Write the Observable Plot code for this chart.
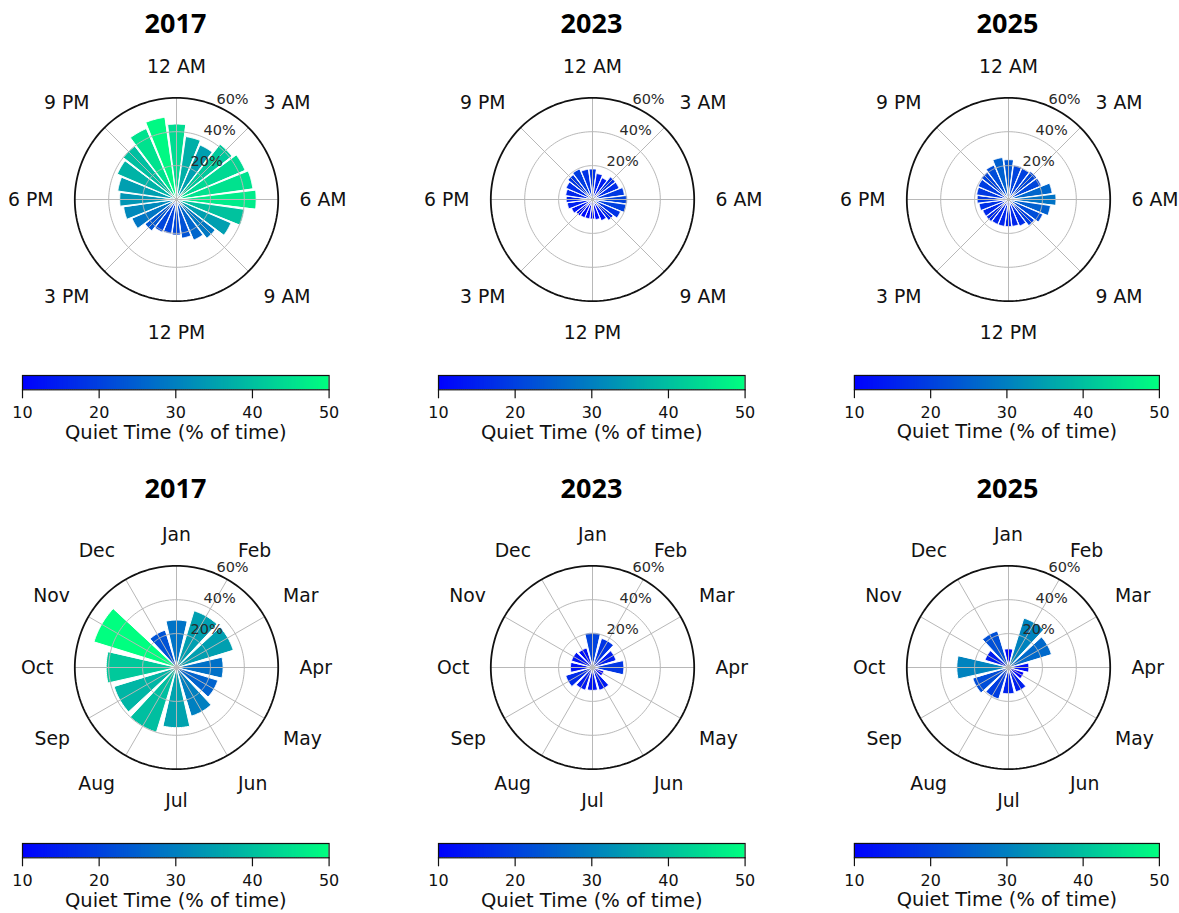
<!DOCTYPE html>
<html><head><meta charset="utf-8">
<script src="https://cdn.jsdelivr.net/npm/d3@7"></script>
<script src="https://cdn.jsdelivr.net/npm/@observablehq/plot@0.6"></script>
<style>
html,body{margin:0;padding:0;background:#fff;overflow:hidden;}
#root{position:relative;width:1179px;height:913px;font-family:"DejaVu Sans",sans-serif;}
.title{position:absolute;font-family:"Noto Sans","Open Sans",sans-serif;font-weight:700;font-size:27px;transform:translate(-50%,-50%);white-space:nowrap;color:#000;line-height:1;}
.panel{position:absolute;}
.panel svg{overflow:visible;background:transparent;}
</style></head><body><div id="root"></div>
<script>
// ---------- data ----------
const years = ["2017", "2023", "2025"];
const hourLabels = ["12 AM", "3 AM", "6 AM", "9 AM", "12 PM", "3 PM", "6 PM", "9 PM"];
const monthLabels = ["Jan", "Feb", "Mar", "Apr", "May", "Jun", "Jul", "Aug", "Sep", "Oct", "Nov", "Dec"];
// quiet time (% of time) by hour of day, 0..23
const hourly2017 = [44.5, 37.5, 35, 41.5, 44, 45.5, 47, 40.5, 35, 29, 26, 23, 21, 20.5, 21, 23.5, 28.5, 31.5, 33.5, 35, 38, 40, 45.5, 49];
const hourly2023 = [18, 15.5, 14, 17, 17, 19, 20.5, 20, 18, 15.5, 13.5, 12, 11.5, 11.5, 11.7, 12.2, 13.4, 15, 15.5, 16, 17, 18.5, 19.5, 18];
const hourly2025 = [23.5, 20.5, 20, 21, 21, 26, 28, 25, 22, 19.5, 17, 16, 16, 16, 16, 16.5, 16.5, 17.5, 18.5, 19, 19.5, 20.5, 22, 25];
// quiet time (% of time) by month
const monthly2017 = [28, 35, 35, 27.5, 25.5, 30, 35.5, 40, 38.5, 41.5, 51, 23];
const monthly2023 = [20.5, 18, 14.5, 18.5, 7, 14, 13.5, 14, 16.5, 13, 13, 12];
const monthly2025 = [11, 30.5, 26.5, 12, 9.5, 15, 15.5, 19.5, 22, 30.5, 14.5, 22.5];
const radialTicks = [20, 40, 60];
const radialTickLabels = ["20%", "40%", "60%"];
const colorDomain = [10, 50];
const colorTicks = [10, 20, 30, 40, 50];
const colorLabel = "Quiet Time (% of time)";

// ---------- layout ----------
const colX = [175.5, 591.5, 1007.5];
const rowY = [199, 667];
const titleY = [22, 487];
const cbTop = [375, 843];
const RMAX = radialTicks[radialTicks.length - 1];
const K = 101.7 / RMAX;      // px per data unit
const W = 340, H = 300;
const LABEL_R = 123 / K;     // angular labels radius (data units)
const colorScale = {type: "linear", domain: colorDomain, range: ["#0000ff", "#00ff80"], interpolate: "rgb", clamp: true};
const rad = (d) => d * Math.PI / 180;

function polarPanel(values, labels, barFrac) {
  const n = values.length;
  const step = 360 / n;
  const bars = [];
  values.forEach((v, i) => {
    const a0 = i * step - step * barFrac / 2, a1 = i * step + step * barFrac / 2;
    bars.push({id: i, x: 0, y: 0, v});
    for (let j = 0; j <= 16; j++) {
      const a = rad(a0 + (a1 - a0) * j / 16);
      bars.push({id: i, x: v * Math.sin(a), y: v * Math.cos(a), v});
    }
  });
  const circ = (r) => d3.range(0, 361, 2).map(d => ({r, x: r * Math.sin(rad(d)), y: r * Math.cos(rad(d))}));
  const grid = radialTicks.slice(0, -1).flatMap(circ);
  const outer = circ(RMAX);
  const spokes = labels.map((l, i) => {
    const a = rad(i * 360 / labels.length);
    return {x2: RMAX * Math.sin(a), y2: RMAX * Math.cos(a)};
  });
  const lab = labels.map((l, i) => {
    const a = rad(i * 360 / labels.length);
    const s = Math.sin(a), c = Math.cos(a);
    return {l, x: LABEL_R * s, y: LABEL_R * c,
      ta: s > 0.01 ? "start" : s < -0.01 ? "end" : "middle",
      la: c > 0.01 ? "bottom" : c < -0.01 ? "top" : "middle"};
  });
  const labelMarks = [];
  for (const ta of ["start", "middle", "end"]) for (const la of ["top", "middle", "bottom"]) {
    const sub = lab.filter(d => d.ta === ta && d.la === la);
    if (sub.length) labelMarks.push(Plot.text(sub, {x: "x", y: "y", text: "l", textAnchor: ta, lineAnchor: la,
      dy: la === "bottom" ? -4 : la === "top" ? 3 : 0, fontSize: 18.8, fill: "#111"}));
  }
  const rlab = radialTicks.map((r, i) => ({t: radialTickLabels[i], x: r * Math.sin(rad(22.5)), y: r * Math.cos(rad(22.5))}));
  return Plot.plot({
    width: W, height: H, margin: 0,
    x: {domain: [-W / 2 / K, W / 2 / K], axis: null},
    y: {domain: [-H / 2 / K, H / 2 / K], axis: null},
    color: colorScale,
    style: {fontFamily: "'DejaVu Sans', sans-serif", background: "transparent", overflow: "visible"},
    marks: [
      Plot.line(bars, {x: "x", y: "y", z: "id", fill: "v", stroke: "white", strokeWidth: 1, curve: "linear-closed"}),
      Plot.line(grid, {x: "x", y: "y", z: "r", stroke: "#b8b8b8", strokeWidth: 1}),
      Plot.link(spokes, {x1: 0, y1: 0, x2: "x2", y2: "y2", stroke: "#b8b8b8", strokeWidth: 1}),
      Plot.line(outer, {x: "x", y: "y", stroke: "#111", strokeWidth: 1.8}),
      Plot.text(rlab, {x: "x", y: "y", text: "t", textAnchor: "start", lineAnchor: "bottom", dx: 1, dy: -2, fontSize: 14.5, fill: "#2a2a2a"}),
      ...labelMarks
    ]
  });
}

function colorbar() {
  const half = 153.3, ml = 20, mr = 20;
  const steps = d3.range(colorDomain[0], colorDomain[1], 0.25);
  return Plot.plot({
    width: 2 * half + ml + mr, height: 5 + 14.3 + 70,
    marginTop: 5, marginBottom: 70, marginLeft: ml, marginRight: mr,
    x: {domain: colorDomain},
    color: colorScale,
    style: {fontFamily: "'DejaVu Sans', sans-serif", fontSize: "16px", background: "transparent", overflow: "visible", color: "#111"},
    marks: [
      Plot.rect(steps, {x1: d => d, x2: d => Math.min(colorDomain[1], d + 0.4), fill: d => d + 0.125}),
      Plot.frame({stroke: "#111", strokeWidth: 1.2}),
      Plot.axisX({ticks: colorTicks, tickSize: 9, tickPadding: 8, fontSize: 16, label: null, strokeWidth: 1.2}),
      Plot.text([colorLabel], {frameAnchor: "bottom", dy: 49, fontSize: 19.5, fill: "#111"})
    ]
  });
}

const root = document.getElementById("root");
const rows = [
  {labels: hourLabels, frac: 0.9, series: [hourly2017, hourly2023, hourly2025]},
  {labels: monthLabels, frac: 0.85, series: [monthly2017, monthly2023, monthly2025]}
];
rows.forEach((row, ri) => {
  row.series.forEach((vals, ci) => {
    const t = document.createElement("div");
    t.className = "title";
    t.textContent = years[ci];
    t.style.left = colX[ci] + "px";
    t.style.top = titleY[ri] + "px";
    root.appendChild(t);

    const p = document.createElement("div");
    p.className = "panel";
    p.style.left = (colX[ci] - W / 2) + "px";
    p.style.top = (rowY[ri] - H / 2) + "px";
    p.appendChild(polarPanel(vals, row.labels, row.frac));
    root.appendChild(p);

    const c = document.createElement("div");
    c.className = "panel";
    c.style.left = (colX[ci] - 153.3 - 20) + "px";
    c.style.top = (cbTop[ri] - 5) + "px";
    c.appendChild(colorbar());
    root.appendChild(c);
  });
});
</script></body></html>
